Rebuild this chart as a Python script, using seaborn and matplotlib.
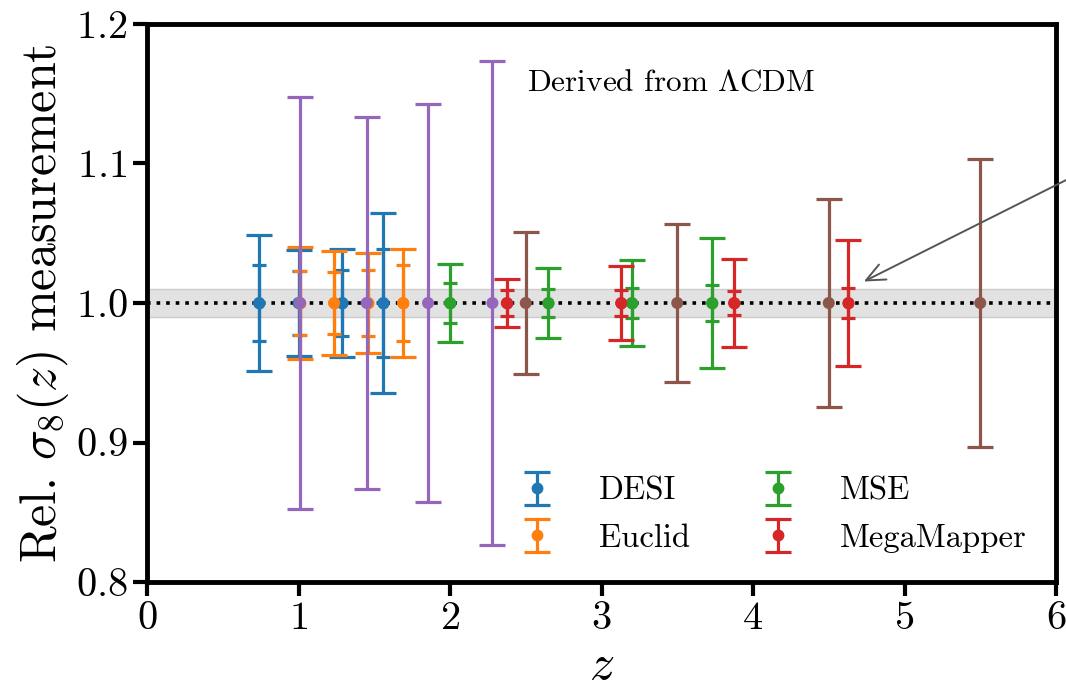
import numpy as np
import pandas as pd
import matplotlib
matplotlib.use("Agg")
import matplotlib.pyplot as plt
import seaborn as sns

# relative sigma_8(z) forecasts: redshift, outer (total) and inner error bars
desi_z = [0.74, 1.00, 1.29, 1.56]
desi_outer = [0.049, 0.038, 0.039, 0.0645]
desi_inner = [0.027, 0.023, 0.024, 0.039]

euclid_z = [1.01, 1.235, 1.46, 1.69]
euclid_outer = [0.040, 0.0375, 0.036, 0.039]
euclid_inner = [0.023, 0.022, 0.0235, 0.027]

mse_z = [2.0, 2.65, 3.2, 3.73]
mse_outer = [0.028, 0.025, 0.031, 0.0464]
mse_inner = [0.0145, 0.010, 0.0107, 0.0129]

mm_z = [2.375, 3.13, 3.875, 4.63]
mm_outer = [0.017, 0.0267, 0.0314, 0.045]
mm_inner = [0.009, 0.009, 0.0087, 0.0104]

purple_z = [1.01, 1.45, 1.855, 2.28]
purple_err = [0.148, 0.133, 0.143, 0.1735]

brown_z = [2.5, 3.5, 4.5, 5.5]
brown_err = [0.051, 0.0565, 0.0745, 0.103]

surveys = ["DESI", "Euclid", "MSE", "MegaMapper", "other1", "other2"]

sns.set_theme(style="ticks")
pal = sns.color_palette("tab10")
plt.rcParams["font.family"] = "serif"
plt.rcParams["font.serif"] = ["cmr10"]
plt.rcParams["mathtext.fontset"] = "cm"
plt.rcParams["axes.unicode_minus"] = False
plt.rcParams["axes.formatter.use_mathtext"] = True
for key in ["axes.edgecolor", "xtick.color", "ytick.color", "text.color", "axes.labelcolor"]:
    plt.rcParams[key] = "black"

fig, ax = plt.subplots(figsize=(10.66, 6.88), dpi=100)
fig.subplots_adjust(left=147 / 1066, right=1056 / 1066, top=1 - 24 / 688, bottom=1 - 582 / 688)

# fiducial line and band
ax.axhspan(0.99, 1.01, facecolor="#e2e2e2", edgecolor="#cccccc", lw=1, zorder=0)
ax.plot([0, 6], [1, 1], ls=":", color="black", lw=2.6, zorder=1)

cap_big = 9.5
cap_small = 5
lw = 2.3

groups = [
    (desi_z, desi_outer, desi_inner, pal[0], "DESI"),
    (euclid_z, euclid_outer, euclid_inner, pal[1], "Euclid"),
    (mse_z, mse_outer, mse_inner, pal[2], "MSE"),
    (mm_z, mm_outer, mm_inner, pal[3], "MegaMapper"),
]

handles = []
for z, outer, inner, c, name in groups:
    ones = np.ones(len(z))
    h = ax.errorbar(z, ones, yerr=outer, fmt="o", ms=7.5, color=c, ecolor=c,
                    elinewidth=lw, capsize=cap_big, capthick=lw, label=name, zorder=2)
    ax.errorbar(z, ones, yerr=inner, fmt="none", ecolor=c,
                elinewidth=lw, capsize=cap_small, capthick=lw, zorder=2)
    handles.append(h)

for z, err, c in [(purple_z, purple_err, pal[4]), (brown_z, brown_err, pal[5])]:
    ax.errorbar(z, np.ones(len(z)), yerr=err, fmt="none", ecolor=c,
                elinewidth=lw, capsize=cap_big, capthick=lw, zorder=2)

# centre points drawn with seaborn
df = pd.DataFrame({
    "z": desi_z + euclid_z + mse_z + mm_z + purple_z + brown_z,
    "val": [1.0] * 24,
    "survey": sum([[s] * 4 for s in surveys], []),
})
sns.scatterplot(data=df, x="z", y="val", hue="survey", palette=dict(zip(surveys, pal[:6])),
                s=75, linewidth=0, legend=False, ax=ax, zorder=3)

ax.text(2.51, 1.158, r"Derived from $\Lambda$CDM", fontsize=22.5, ha="left", va="center")

ax.annotate("", xy=(4.715, 1.0145), xytext=(7.0, 1.139), annotation_clip=False,
            arrowprops=dict(arrowstyle="->,head_length=0.45,head_width=0.2",
                            color="#555555", lw=1.4, mutation_scale=30))

ax.set_xlim(0, 6)
ax.set_ylim(0.8, 1.2)
ax.set_xticks(range(7))
ax.set_yticks([0.8, 0.9, 1.0, 1.1, 1.2])
ax.set_xlabel(r"$z$", fontsize=36, labelpad=4)
ax.set_ylabel(r"Rel. $\sigma_8(z)$ measurement", fontsize=36, labelpad=3)
ax.tick_params(axis="both", labelsize=29, width=3, length=10, pad=4, direction="out")
for sp in ax.spines.values():
    sp.set_linewidth(3.5)

ax.legend(handles=handles, loc="lower right", ncol=2, frameon=False, fontsize=23.5,
          handletextpad=0.9, columnspacing=1.7, labelspacing=0.55)

fig.savefig("out.png", dpi=100)
